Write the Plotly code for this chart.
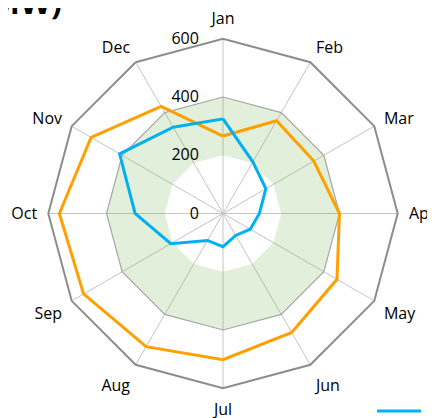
import plotly.graph_objects as go

months = ["Jan", "Feb", "Mar", "Apr", "May", "Jun", "Jul", "Aug", "Sep", "Oct", "Nov", "Dec"]
blue_vals = [325, 205, 170, 125, 108, 87, 114, 107, 207, 302, 410, 342]
orange_vals = [266, 368, 360, 400, 452, 472, 502, 528, 553, 562, 523, 425]
band_low = [200, 200, 200, 200, 200, 200, 200, 200, 200, 200, 200, 200]
band_high = [400, 400, 400, 400, 400, 400, 400, 400, 400, 400, 400, 400]
radial_ticks = [0, 200, 400, 600]

FONT = "Open Sans"

# annulus: outer ring forward, inner ring backward (hole)
band_theta = months + [months[0]] + [months[0]] + months[::-1]
band_r = band_high + [band_high[0]] + [band_low[0]] + band_low[::-1]

fig = go.Figure()
fig.add_trace(go.Scatterpolar(
    theta=band_theta, r=band_r, mode="lines", fill="toself",
    fillcolor="rgba(112,173,71,0.2)", line=dict(width=0),
    showlegend=False, hoverinfo="skip"))
fig.add_trace(go.Scatterpolar(
    theta=months + [months[0]], r=band_high + [band_high[0]], mode="lines",
    line=dict(color="#a6a6a6", width=1.2), showlegend=False, hoverinfo="skip"))
fig.add_trace(go.Scatterpolar(
    theta=months + [months[0]], r=orange_vals + [orange_vals[0]], mode="lines",
    line=dict(color="#FFA000", width=3), name="Supply", legendrank=2))
fig.add_trace(go.Scatterpolar(
    theta=months + [months[0]], r=blue_vals + [blue_vals[0]], mode="lines",
    line=dict(color="#00B0F0", width=3), name="Demand", legendrank=1))

fig.add_annotation(text="<b>(MW)</b>", xref="paper", yref="paper",
                   x=56 / 435, y=1 - 17 / 418, xanchor="right", yanchor="bottom",
                   showarrow=False, font=dict(family=FONT, size=32, color="#000"))

fig.update_layout(
    width=435, height=418,
    margin=dict(l=0, r=0, t=0, b=0, autoexpand=False),
    paper_bgcolor="white",
    font=dict(family=FONT, size=16, color="#000"),
    polar=dict(
        domain=dict(x=[40.3 / 435, 389.7 / 435], y=[37.8 / 418, 387.2 / 418]),
        bgcolor="rgba(0,0,0,0)",
        gridshape="linear",
        angularaxis=dict(
            direction="clockwise", rotation=90, type="category",
            categoryarray=months,
            showline=True, linecolor="#8c8c8c", linewidth=2,
            showgrid=True, gridcolor="#c4c4c4", gridwidth=1,
            ticks="outside", ticklen=7, tickcolor="rgba(0,0,0,0)",
            tickfont=dict(family=FONT, size=16, color="#000"),
        ),
        radialaxis=dict(
            range=[0, 600], tickvals=radial_ticks, ticktext=[str(v) for v in radial_ticks],
            angle=90, tickangle=90, side="counterclockwise", showline=False,
            ticks="outside", ticklen=18, tickcolor="rgba(0,0,0,0)",
            showgrid=False, tickfont=dict(family=FONT, size=16, color="#000"),
        ),
    ),
    legend=dict(orientation="h", x=364 / 435, y=15 / 418, xanchor="left", yanchor="middle",
                itemwidth=44,
                font=dict(family=FONT, size=16), bgcolor="rgba(0,0,0,0)"),
)

fig.write_html("out.html")
